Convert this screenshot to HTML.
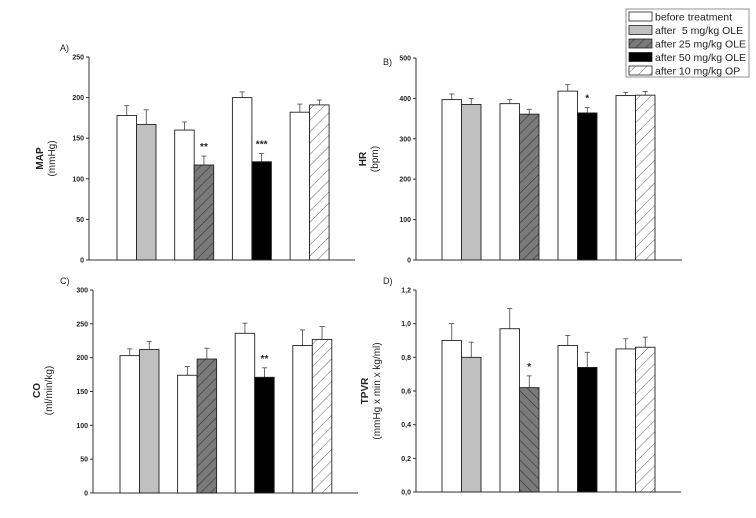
<!DOCTYPE html>
<html><head><meta charset="utf-8"><style>
body{margin:0;background:#fff;}
svg{display:block;font-family:"Liberation Sans",Arial,sans-serif;}
</style></head><body>
<svg id="c" width="756" height="518" viewBox="0 0 756 518">
<defs>
<pattern id="h25" patternUnits="userSpaceOnUse" width="7" height="7" patternTransform="rotate(45)"><rect width="7" height="7" fill="#7a7a7a"/><line x1="0" y1="0" x2="0" y2="7" stroke="#333" stroke-width="1.2"/></pattern>
<pattern id="h25b" patternUnits="userSpaceOnUse" width="7" height="7" patternTransform="rotate(-45)"><rect width="7" height="7" fill="#7a7a7a"/><line x1="0" y1="0" x2="0" y2="7" stroke="#333" stroke-width="1.2"/></pattern>
<pattern id="hop" patternUnits="userSpaceOnUse" width="8" height="8" patternTransform="rotate(45)"><rect width="8" height="8" fill="#fff"/><line x1="0" y1="0" x2="0" y2="8" stroke="#666" stroke-width="1"/></pattern>
</defs>
<g id="legend">
<rect x="626" y="9" width="123" height="68" fill="#fff" stroke="#777" stroke-width="0.8"/>
</g>
</svg>
<script>
const groupCats = ["5 mg/kg OLE","25 mg/kg OLE","50 mg/kg OLE","10 mg/kg OP"];
const mapBefore=[178,160,200,182], mapAfter=[167,117,121,191], mapErrBefore=[12,10,7,10], mapErrAfter=[18,11,10,6];
const hrBefore=[397,387,418,407], hrAfter=[385,361,364,408], hrErrBefore=[14,10,16,8], hrErrAfter=[15,12,13,9];
const coBefore=[203,174,236,218], coAfter=[212,198,171,227], coErrBefore=[10,13,15,23], coErrAfter=[12,16,14,19];
const tpvrBefore=[0.9,0.97,0.87,0.85], tpvrAfter=[0.8,0.62,0.74,0.86], tpvrErrBefore=[0.1,0.12,0.06,0.06], tpvrErrAfter=[0.09,0.07,0.09,0.06];
const mapStars=["","**","***",""], hrStars=["","","*",""], coStars=["","","**",""], tpvrStars=["","*","",""];
const mapTicks=[0,50,100,150,200,250], hrTicks=[0,100,200,300,400,500], coTicks=[0,50,100,150,200,250,300], tpvrTicks=[0,0.2,0.4,0.6,0.8,1.0,1.2];
const legendLabels=["before treatment","after\u00a0 5 mg/kg OLE","after 25 mg/kg OLE","after 50 mg/kg OLE","after 10 mg/kg OP"];

const NS="http://www.w3.org/2000/svg", svg=document.getElementById('c');
function el(t,a,p){const e=document.createElementNS(NS,t);for(const k in a)e.setAttribute(k,a[k]);(p||svg).appendChild(e);return e;}
const afterFills=["#c0c0c0","url(#h25)","#000","url(#hop)"];

function panel(o){
  const g=el('g',{});
  
  
  const ymax=o.ticks[o.ticks.length-1];
  const y=v=>o.y0-(v/ymax)*(o.y0-o.y1);
  const x=i=>o.gx+i*o.gs;
  el('line',{x1:o.ax,y1:o.y1,x2:o.ax,y2:o.y0,stroke:'#333','stroke-width':1},g);
  el('line',{x1:o.ax,y1:o.y0,x2:o.axEnd,y2:o.y0,stroke:'#333','stroke-width':1},g);
  o.ticks.forEach(t=>{
    el('line',{x1:o.ax-3,y1:y(t),x2:o.ax,y2:y(t),stroke:'#333'},g);
    const tx=el('text',{x:o.ax-5,y:y(t)+2.5,'font-size':7,'font-weight':'bold','text-anchor':'end',fill:'#222'},g);
    tx.textContent=o.fmt(t);
    
    
  });
  const bw=19.5;
  for(let i=0;i<4;i++){
    const vals=[o.before[i],o.after[i]], errs=[o.eb[i],o.ea[i]];
    for(let j=0;j<2;j++){
      const bx=x(i)+j*bw, top=y(vals[j]);
      const fill=j==0?'#fff':(i==1&&o.rev?'url(#h25b)':afterFills[i]);
      const et=y(vals[j]+errs[j]);
      el('line',{x1:bx+bw/2,y1:top,x2:bx+bw/2,y2:et,stroke:'#444','stroke-width':0.8},g);
      el('line',{x1:bx+bw/2-2.5,y1:et,x2:bx+bw/2+2.5,y2:et,stroke:'#444','stroke-width':0.8},g);
      const r=el('rect',{x:bx,y:top,width:bw,height:o.y0-top,fill:fill,stroke:'#222','stroke-width':0.9},g);
      
      
    }
    if(o.stars[i]){
      const s=el('text',{x:x(i)+bw*1.5,y:y(o.after[i]+o.ea[i])-6,'font-size':10,'font-weight':'bold','text-anchor':'middle',fill:'#222'},g);
      s.textContent=o.stars[i];
      
      
    }
  }
  const lab=el('text',{x:o.lx,y:o.ly,'font-size':9,fill:'#222'},g);
  lab.textContent=o.label;
  
  
  const cy=(o.y0+o.y1)/2+o.tdy;
  const t1=el('text',{x:0,y:0,'font-size':10,'font-weight':'bold','text-anchor':'middle',fill:'#222',transform:`translate(${o.tx},${cy}) rotate(-90)`},g);
  t1.textContent=o.t1;
  
  
  const t2=el('text',{x:0,y:0,'font-size':10,'text-anchor':'middle',fill:'#222',transform:`translate(${o.tx+12},${cy}) rotate(-90)`},g);
  t2.textContent=o.t2;
  
  
}
const intF=t=>String(t), decF=t=>t.toFixed(1).replace('.',',');
panel({name:'panel-a-map',ax:89,axEnd:355,y0:260,y1:57,gx:117,gs:57.7,ticks:mapTicks,before:mapBefore,after:mapAfter,eb:mapErrBefore,ea:mapErrAfter,stars:mapStars,fmt:intF,label:'A)',lx:60,ly:51,t1:'MAP',t2:'(mmHg)',tx:43,tdy:0});
panel({name:'panel-b-hr',ax:416,axEnd:682,y0:260,y1:58,gx:442,gs:58,ticks:hrTicks,before:hrBefore,after:hrAfter,eb:hrErrBefore,ea:hrErrAfter,stars:hrStars,fmt:intF,label:'B)',lx:383,ly:65,t1:'HR',t2:'(bpm)',tx:366,tdy:0});
panel({name:'panel-c-co',ax:93,axEnd:358,y0:493,y1:290,gx:120,gs:57.6,ticks:coTicks,before:coBefore,after:coAfter,eb:coErrBefore,ea:coErrAfter,stars:coStars,fmt:intF,label:'C)',lx:60,ly:284,t1:'CO',t2:'(ml/min/kg)',tx:40,tdy:-1});
panel({name:'panel-d-tpvr',ax:416,axEnd:681,y0:492,y1:290,gx:442,gs:58,rev:true,ticks:tpvrTicks,before:tpvrBefore,after:tpvrAfter,eb:tpvrErrBefore,ea:tpvrErrAfter,stars:tpvrStars,fmt:decF,label:'D)',lx:383,ly:284,t1:'TPVR',t2:'(mmHg x min x kg/ml)',tx:368,tdy:0});

const lg=document.getElementById('legend');
const lfills=['#fff','#c0c0c0','url(#h25)','#000','url(#hop)'];
legendLabels.forEach((l,i)=>{
  const yy=12+i*13.5;
  const r=el('rect',{x:629,y:yy,width:23,height:9,fill:lfills[i],stroke:'#222','stroke-width':0.8},lg);
  
  
  const t=el('text',{x:655,y:yy+8.5,'font-size':10.5,fill:'#222'},lg);
  t.textContent=l;
  
  
});
</script>
</body></html>
